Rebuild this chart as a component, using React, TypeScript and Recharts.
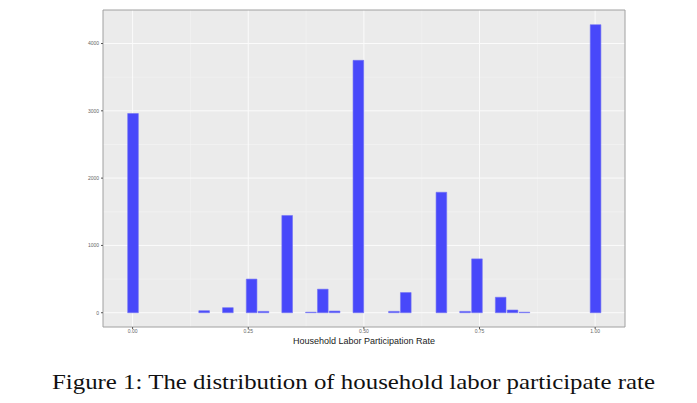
import React from 'react';
import { BarChart, Bar, XAxis, YAxis, CartesianGrid, ReferenceArea } from 'recharts';

// Histogram bin centers (binwidth = 1/39) and counts for non-empty bins
const binCenters = [0.0, 0.1538, 0.2051, 0.2564, 0.2821, 0.3333, 0.3846, 0.4103, 0.4359, 0.4872, 0.5641, 0.5897, 0.6667, 0.7179, 0.7436, 0.7949, 0.8205, 0.8462, 1.0];
const counts = [2960, 30, 75, 500, 20, 1445, 8, 350, 25, 3750, 20, 300, 1790, 20, 800, 230, 40, 8, 4280];

const xTicks = [0, 0.25, 0.5, 0.75, 1];
const xTickLabels = ['0.00', '0.25', '0.50', '0.75', '1.00'];
const xMinor = [0.125, 0.375, 0.625, 0.875];
const yTicks = [0, 1000, 2000, 3000, 4000];
const yMinor = [500, 1500, 2500, 3500];

const xDomain: [number, number] = [-0.064, 1.0645];
const yDomain: [number, number] = [-212, 4498];

const data = binCenters.map((x, i) => ({ x, count: counts[i] }));

export default function App() {
  return (
    <div style={{ position: 'absolute', left: 0, top: 0, width: 697, height: 403, background: '#fff' }}>
      <BarChart
        width={697}
        height={403}
        data={data}
        margin={{ top: 10, right: 72, bottom: 66, left: 83 }}
      >
        <CartesianGrid
          fill="#ebebeb"
          stroke="#f3f3f3"
          strokeWidth={0.6}
          horizontalValues={yMinor}
          verticalValues={xMinor}
        />
        <CartesianGrid
          fill="none"
          stroke="#fbfbfb"
          strokeWidth={1}
          horizontalValues={yTicks}
          verticalValues={xTicks}
        />
        <XAxis
          dataKey="x"
          type="number"
          domain={xDomain}
          ticks={xTicks}
          tickFormatter={(v: number) => xTickLabels[xTicks.indexOf(v)] ?? String(v)}
          allowDataOverflow
          height={10}
          tickSize={2}
          tickMargin={0}
          axisLine={false}
          tickLine={{ stroke: '#555' }}
          tick={{ fontSize: 5, fill: '#666', fontFamily: 'Liberation Sans, Arial, sans-serif' }}
          label={{
            value: 'Household Labor Participation Rate',
            position: 'bottom',
            offset: 1,
            style: { fontSize: 9, fill: '#1a1a1a', fontFamily: 'Liberation Sans, Arial, sans-serif' },
          }}
        />
        <YAxis
          type="number"
          domain={yDomain}
          ticks={yTicks}
          allowDataOverflow
          width={20}
          tickSize={2}
          tickMargin={2}
          axisLine={false}
          tickLine={{ stroke: '#555' }}
          tick={{ fontSize: 5, fill: '#666', fontFamily: 'Liberation Sans, Arial, sans-serif' }}
        />
        <Bar
          dataKey="count"
          fill="#4848fa"
          stroke="#7272f4"
          strokeWidth={0.6}
          barSize={12}
          isAnimationActive={false}
        />
        <ReferenceArea
          x1={xDomain[0]}
          x2={xDomain[1]}
          y1={yDomain[0]}
          y2={yDomain[1]}
          fill="none"
          stroke="#a0a0a0"
          strokeWidth={1}
          ifOverflow="visible"
        />
      </BarChart>
      <div
        style={{
          position: 'absolute',
          left: 52,
          top: 370.5,
          fontFamily: '"Liberation Serif", "Times New Roman", serif',
          fontSize: 22,
          lineHeight: 1,
          whiteSpace: 'nowrap',
          color: '#111',
          transform: 'scaleX(1.13)',
          transformOrigin: '0 0',
        }}
      >
        Figure 1: The distribution of household labor participate rate
      </div>
    </div>
  );
}
